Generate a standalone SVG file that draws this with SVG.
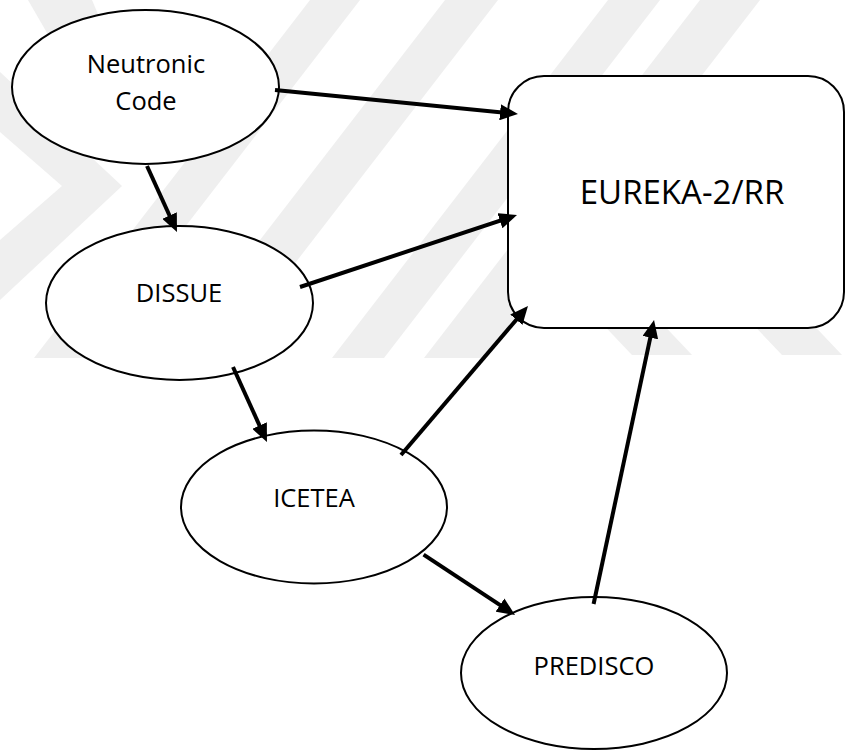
<svg xmlns="http://www.w3.org/2000/svg" width="846" height="751" viewBox="0 0 846 751">
  <style>
    .wm { fill: #efefef; stroke: none; }
    .node { fill: #ffffff; stroke: #000000; stroke-width: 2; }
    .lbl { font-family: "Open Sans", "Liberation Sans", sans-serif; font-size: 25.5px; fill: #000000; text-anchor: middle; }
    .big { font-size: 33px; }
    .edge { stroke: #000000; stroke-width: 4; fill: none; marker-end: url(#arrow); }
  </style>
  <defs>
    <marker id="arrow" markerUnits="userSpaceOnUse" viewBox="0 0 18 16" markerWidth="18" markerHeight="16" refX="12" refY="8" orient="auto">
      <path d="M0,0 L18,8 L0,16 Z" fill="#000000"/>
    </marker>
  </defs>
  <rect width="846" height="751" fill="#ffffff"/>
  <g id="watermark">
    <polygon class="wm" points="0,72 122,186 0,300 0,240 62,186 0,132"/>
    <polygon class="wm" points="28,0 92,0 130,90 80,90"/>
    <polygon class="wm" points="310,0 360,0 84,358 34,358"/>
    <polygon class="wm" points="445,0 498,0 222,358 169,358"/>
    <polygon class="wm" points="608,0 660,0 384,358 332,358"/>
    <polygon class="wm" points="700,0 760,0 484,358 424,358"/>
    <polygon class="wm" points="595,316 655,316 692,355 632,355"/>
    <polygon class="wm" points="745,316 805,316 842,355 782,355"/>
  </g>
  <g id="node-neutronic">
    <ellipse class="node" cx="145.5" cy="87" rx="133.5" ry="77"/>
    <text class="lbl" x="146" y="73">Neutronic</text>
    <text class="lbl" x="146" y="110">Code</text>
  </g>
  <g id="node-dissue">
    <ellipse class="node" cx="179.5" cy="303" rx="133.5" ry="77"/>
    <text class="lbl" x="179" y="302">DISSUE</text>
  </g>
  <g id="node-icetea">
    <ellipse class="node" cx="314" cy="507" rx="133" ry="76.5"/>
    <text class="lbl" x="314" y="507">ICETEA</text>
  </g>
  <g id="node-predisco">
    <ellipse class="node" cx="594" cy="673" rx="133" ry="76"/>
    <text class="lbl" x="594" y="675">PREDISCO</text>
  </g>
  <g id="node-eureka">
    <rect class="node" x="508" y="76" width="336" height="252" rx="36" ry="36"/>
    <text class="lbl big" x="682" y="204">EUREKA-2/RR</text>
  </g>
  <g id="connectors">
    <line class="edge" x1="275" y1="90" x2="512" y2="113.4"/>
    <line class="edge" x1="147" y1="166" x2="174.5" y2="226.5"/>
    <line class="edge" x1="300" y1="287" x2="511.3" y2="216.9"/>
    <line class="edge" x1="233" y1="367" x2="264.5" y2="436.5"/>
    <line class="edge" x1="401" y1="455" x2="524.1" y2="310.6"/>
    <line class="edge" x1="423.6" y1="554.6" x2="510" y2="611.7"/>
    <line class="edge" x1="593.6" y1="604" x2="652.8" y2="325.9"/>
  </g>
</svg>
